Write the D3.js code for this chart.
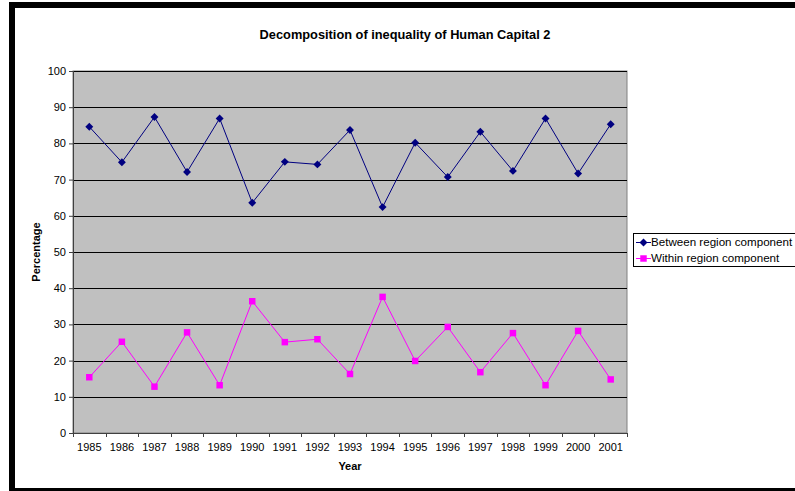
<!DOCTYPE html>
<html>
<head>
  <meta charset="utf-8">
  <title>Decomposition of inequality of Human Capital 2</title>
  <script src="https://cdn.jsdelivr.net/npm/d3@7"></script>
<style type="text/css">
body {
  margin: 0;
  background: #fff;
  font-family: "Liberation Sans", Arial, sans-serif;
}

.axis text {
  font-size: 11px;
  fill: #000;
  font-family: "Liberation Sans", Arial, sans-serif;
}

.axis path,
.axis line {
  stroke: #404040;
  stroke-width: 1px;
}

.title {
  font-size: 12.8px;
  font-weight: bold;
}

.axis-label {
  font-size: 11px;
  font-weight: bold;
}

.legend text {
  font-size: 11.6px;
}
</style>
</head>
<body>
<script>
var years = ["1985", "1986", "1987", "1988", "1989", "1990", "1991", "1992", "1993",
             "1994", "1995", "1996", "1997", "1998", "1999", "2000", "2001"];
var between = [84.6, 74.8, 87.3, 72.1, 86.9, 63.6, 74.9, 74.2, 83.7,
               62.4, 80.2, 70.7, 83.2, 72.4, 86.9, 71.7, 85.3];
var within = [15.4, 25.2, 12.8, 27.8, 13.2, 36.4, 25.1, 25.9, 16.3,
              37.6, 19.9, 29.3, 16.8, 27.6, 13.2, 28.2, 14.8];
var yTicks = [0, 10, 20, 30, 40, 50, 60, 70, 80, 90, 100];
var seriesNames = ["Between region component", "Within region component"];

var W = 795, H = 491;
var margin = { top: 71, right: 168, bottom: 58, left: 73 };
var width = 627 - margin.left;
var height = 433 - margin.top;

var svg = d3.select("body").append("svg")
    .attr("width", W)
    .attr("height", H);

// outer frame
svg.append("rect")
    .attr("x", 12)
    .attr("y", 5)
    .attr("width", W + 20)
    .attr("height", 486)
    .attr("fill", "none")
    .attr("stroke", "#000")
    .attr("stroke-width", 6);

svg.append("text")
    .attr("class", "title")
    .attr("x", 405)
    .attr("y", 39)
    .attr("text-anchor", "middle")
    .text("Decomposition of inequality of Human Capital 2");

var g = svg.append("g")
    .attr("transform", "translate(" + margin.left + "," + margin.top + ")");

var x = d3.scaleBand()
    .domain(years)
    .range([0, width]);

var y = d3.scaleLinear()
    .domain([0, 100])
    .range([height, 0]);

g.append("rect")
    .attr("width", width)
    .attr("height", height)
    .attr("fill", "#c0c0c0")
    .attr("stroke", "#808080");

g.selectAll("line.grid")
    .data(yTicks.slice(1))
  .enter().append("line")
    .attr("class", "grid")
    .attr("x1", 0)
    .attr("x2", width)
    .attr("y1", function(d) { return Math.round(y(d)) + 0.5; })
    .attr("y2", function(d) { return Math.round(y(d)) + 0.5; })
    .attr("stroke", "#000");

var yAxis = d3.axisLeft(y)
    .tickValues(yTicks)
    .tickSize(4)
    .tickPadding(3);

g.append("g")
    .attr("class", "axis")
    .call(yAxis)
    .select(".domain").attr("d", "M0.5," + height + "V0");

var xAxis = d3.axisBottom(x)
    .tickSize(0)
    .tickPadding(10);

var xg = g.append("g")
    .attr("class", "axis")
    .attr("transform", "translate(0," + height + ")")
    .call(xAxis);
xg.select(".domain").attr("d", "M0," + 0.5 + "H" + width);

// tick marks on category boundaries
xg.selectAll("line.bound")
    .data(years.concat(["end"]))
  .enter().append("line")
    .attr("class", "bound")
    .attr("x1", function(d, i) { return Math.round(i * x.step()) + 0.5; })
    .attr("x2", function(d, i) { return Math.round(i * x.step()) + 0.5; })
    .attr("y1", 0)
    .attr("y2", 4);

svg.append("text")
    .attr("class", "axis-label")
    .attr("x", 350)
    .attr("y", 470)
    .attr("text-anchor", "middle")
    .text("Year");

svg.append("text")
    .attr("class", "axis-label")
    .attr("transform", "translate(40,252) rotate(-90)")
    .attr("text-anchor", "middle")
    .text("Percentage");

var cx = function(d, i) { return x(years[i]) + x.bandwidth() / 2; };
var line = d3.line()
    .x(cx)
    .y(function(d) { return y(d); });

g.append("path")
    .datum(between)
    .attr("fill", "none")
    .attr("stroke", "#000080")
    .attr("stroke-width", 1)
    .attr("d", line);

g.append("path")
    .datum(within)
    .attr("fill", "none")
    .attr("stroke", "#ff00ff")
    .attr("stroke-width", 1)
    .attr("d", line);

var diamond = d3.symbol().type(d3.symbolDiamond2).size(40);
var square = d3.symbol().type(d3.symbolSquare).size(42);

g.selectAll("path.between")
    .data(between)
  .enter().append("path")
    .attr("class", "between")
    .attr("d", diamond)
    .attr("fill", "#000080")
    .attr("transform", function(d, i) { return "translate(" + cx(d, i) + "," + y(d) + ")"; });

g.selectAll("path.within")
    .data(within)
  .enter().append("path")
    .attr("class", "within")
    .attr("d", square)
    .attr("fill", "#ff00ff")
    .attr("transform", function(d, i) { return "translate(" + cx(d, i) + "," + y(d) + ")"; });

// legend
var legend = svg.append("g")
    .attr("class", "legend")
    .attr("transform", "translate(633,233)");

legend.append("rect")
    .attr("x", 0.5)
    .attr("y", 0.5)
    .attr("width", 180)
    .attr("height", 33)
    .attr("fill", "#fff")
    .attr("stroke", "#000");

var colors = ["#000080", "#ff00ff"];
var shapes = [diamond, square];
var items = legend.selectAll("g.item")
    .data(seriesNames)
  .enter().append("g")
    .attr("class", "item")
    .attr("transform", function(d, i) { return "translate(0," + (9 + i * 16) + ")"; });

items.append("line")
    .attr("x1", 3)
    .attr("x2", 18)
    .attr("y1", 0.5)
    .attr("y2", 0.5)
    .attr("stroke", function(d, i) { return colors[i]; });

items.append("path")
    .attr("d", function(d, i) { return shapes[i](); })
    .attr("fill", function(d, i) { return colors[i]; })
    .attr("transform", "translate(10.5,0.5)");

items.append("text")
    .attr("x", 18)
    .attr("y", 4)
    .text(function(d) { return d; });
</script>
</body>
</html>
